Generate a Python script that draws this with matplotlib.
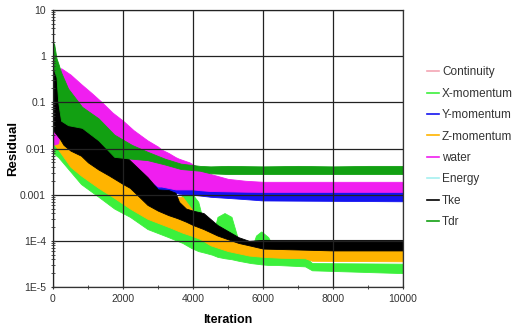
import matplotlib
matplotlib.use("Agg")
import matplotlib.pyplot as plt
from matplotlib.lines import Line2D

plt.rcParams["font.family"] = ["Liberation Sans", "DejaVu Sans"]

# residual bands: (iteration, lower edge, upper edge)
xm_x = [0, 150, 800, 1300, 1750, 2200, 2700, 3300, 3550, 3700, 3950, 4150, 4350, 4550,
        4700, 4900, 5100, 5300, 5650, 5800, 5950, 6150, 6400, 7200, 7400, 10000]
xm_hi = [0.015, 0.011, 0.003, 0.0016, 0.001, 0.00058, 0.00035, 0.00024, 0.0004, 0.0011,
         0.0011, 0.0007, 0.00018, 0.00012, 0.00033, 0.0004, 0.00033, 0.0001, 6e-5, 1.3e-4,
         1.6e-4, 1.2e-4, 5e-5, 4.6e-5, 3.3e-5, 3.2e-5]
xm_lo = [0.008, 0.0065, 0.0017, 0.0009, 0.0005, 0.00033, 0.00018, 0.00012, 0.0001, 9e-5,
         7e-5, 6e-5, 5.5e-5, 5e-5, 4.5e-5, 4.2e-5, 4e-5, 3.7e-5, 3.3e-5, 3.2e-5, 3.1e-5,
         3.0e-5, 3.0e-5, 2.8e-5, 2.3e-5, 2.0e-5]

ym_x = [0, 1000, 2000, 2700, 3000, 3300, 3600, 4000, 4500, 5000, 5500, 6000, 10000]
ym_lo = [0.02, 0.008, 0.002, 0.0013, 0.0013, 0.0012, 0.00105, 0.001, 0.0009, 0.00085,
         0.0008, 0.00075, 0.00072]
ym_hi = [0.03, 0.02, 0.005, 0.003, 0.002, 0.0019, 0.0018, 0.0018, 0.0017, 0.0016, 0.0016,
         0.0016, 0.0016]

zm_x = [0, 150, 500, 800, 1300, 1750, 2200, 2700, 3300, 3450, 3700, 3950, 4200, 4500,
        5000, 5600, 6000, 6500, 7200, 7400, 10000]
zm_hi = [0.035, 0.03, 0.014, 0.008, 0.004, 0.0025, 0.0016, 0.0008, 0.0004, 0.0009, 0.0009,
         0.0005, 0.00028, 0.0002, 0.00013, 9e-5, 8e-5, 7.5e-5, 7.5e-5, 7.5e-5, 7.5e-5]
zm_lo = [0.013, 0.0095, 0.004, 0.0026, 0.0014, 0.00085, 0.0005, 0.0003, 0.0002, 0.00018,
         0.00015, 0.00013, 0.00011, 8e-5, 6e-5, 4.8e-5, 4.5e-5, 4.3e-5, 4.2e-5, 3.7e-5, 3.6e-5]

wat_x = [0, 150, 230, 500, 800, 1100, 1400, 1700, 2000, 2300, 2400, 2700, 3000, 3100,
         3300, 3500, 3600, 3900, 4000, 4200, 4500, 5000, 5500, 6000, 8000, 10000]
wat_hi = [0.3, 0.35, 0.55, 0.4, 0.25, 0.16, 0.1, 0.06, 0.04, 0.025, 0.022, 0.015, 0.011,
          0.0095, 0.008, 0.0065, 0.006, 0.005, 0.0045, 0.0038, 0.0028, 0.0022, 0.002,
          0.0019, 0.0019, 0.0019]
wat_lo = [0.012, 0.013, 0.04, 0.04, 0.03, 0.02, 0.014, 0.01, 0.007, 0.0045, 0.0035, 0.0022,
          0.0015, 0.0015, 0.0014, 0.0013, 0.0013, 0.0013, 0.0013, 0.00125, 0.0012, 0.00118,
          0.00116, 0.00115, 0.00115, 0.00115]

tke_x = [0, 100, 200, 300, 500, 800, 1000, 1300, 1600, 2000, 2200, 2700, 3000, 3300, 3500,
         3600, 3800, 4000, 4300, 4700, 5300, 5600, 6000, 8000, 10000]
tke_hi = [0.65, 0.5, 0.12, 0.05, 0.045, 0.04, 0.03, 0.02, 0.012, 0.008, 0.0055, 0.0024,
          0.0013, 0.00126, 0.0011, 0.0007, 0.0005, 0.00045, 0.0004, 0.00022, 0.00012, 0.0001,
          0.000105, 0.000105, 0.000105]
tke_lo = [0.025, 0.02, 0.016, 0.012, 0.009, 0.007, 0.005, 0.0035, 0.0026, 0.0017, 0.0014,
          0.0006, 0.00045, 0.00036, 0.00032, 0.0003, 0.00026, 0.00022, 0.00018, 0.00013, 9e-5,
          8e-5, 6.8e-5, 6.2e-5, 6.2e-5]

tdr_x = [0, 30, 100, 150, 230, 430, 830, 1300, 1750, 2250, 2700, 3200, 3650, 4200, 4500,
         5000, 6000, 7000, 8000, 9000, 10000]
tdr_hi = [0.9, 1.9, 0.9, 0.7, 0.45, 0.2, 0.08, 0.045, 0.02, 0.012, 0.0085, 0.006, 0.0047,
          0.0042, 0.0041, 0.0042, 0.0041, 0.0042, 0.0041, 0.0042, 0.0042]
tdr_lo = [0.6, 0.5, 0.35, 0.1, 0.04, 0.032, 0.028, 0.015, 0.0066, 0.006, 0.0056, 0.0045,
          0.0036, 0.0033, 0.0029, 0.0028, 0.0028, 0.0028, 0.0028, 0.0028, 0.0028]

labels = ["Continuity", "X-momentum", "Y-momentum", "Z-momentum", "water", "Energy", "Tke", "Tdr"]
colors = ["#f4a6b4", "#3cf03c", "#1414f0", "#ffb400", "#f01ef0", "#a6f0f0", "#000000", "#12a012"]

y_ticks = [1e-5, 1e-4, 1e-3, 1e-2, 1e-1, 1, 10]
y_labels = ["1E-5", "1E-4", "0.001", "0.01", "0.1", "1", "10"]
x_ticks = [0, 2000, 4000, 6000, 8000, 10000]

fig = plt.figure(figsize=(5.13, 3.27), dpi=100)
ax = fig.add_axes([0.1033, 0.1223, 0.6823, 0.8471])

bands = [
    (xm_x, xm_lo, xm_hi, colors[1]),
    (ym_x, ym_lo, ym_hi, colors[2]),
    (zm_x, zm_lo, zm_hi, colors[3]),
    (wat_x, wat_lo, wat_hi, colors[4]),
    (tke_x, tke_lo, tke_hi, colors[6]),
    (tdr_x, tdr_lo, tdr_hi, colors[7]),
]
for x, lo, hi, c in bands:
    ax.fill_between(x, lo, hi, color=c, lw=0.6, edgecolor=c)

ax.set_yscale("log")
ax.set_xlim(0, 10000)
ax.set_ylim(1e-5, 10)
ax.set_yticks(y_ticks)
ax.set_yticklabels(y_labels)
ax.set_xticks(x_ticks)
ax.set_xticks([1000, 3000, 5000, 7000, 9000], minor=True)
ax.grid(True, which="major", color="#222222", lw=0.9)
ax.set_axisbelow(False)
ax.tick_params(which="major", labelsize=7.5, colors="#333333", length=3, direction="inout")
ax.tick_params(which="minor", length=3, direction="inout", color="#333333")
for s in ax.spines.values():
    s.set_color("#333333")
    s.set_linewidth(0.9)

ax.set_xlabel("Iteration", fontsize=9, fontweight="bold", labelpad=7)
ax.set_ylabel("Residual", fontsize=9.5, fontweight="bold", labelpad=1)

handles = [Line2D([], [], color=c, lw=1.2) for c in colors]
fig.legend(handles, labels, loc="upper left", bbox_to_anchor=(0.812, 0.83),
           frameon=False, fontsize=8.5, handlelength=1.0, handletextpad=0.25,
           labelspacing=0.8, labelcolor="#333333")

fig.savefig("out.png", dpi=100)
